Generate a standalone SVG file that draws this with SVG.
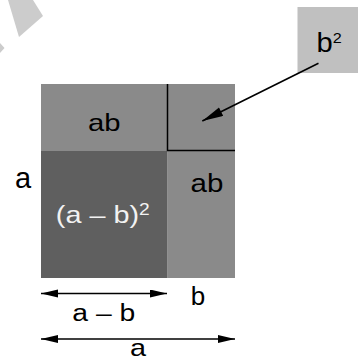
<svg xmlns="http://www.w3.org/2000/svg" width="358" height="361" viewBox="0 0 358 361">
  <style>
    .lbl { font-family: "Liberation Sans", Arial, sans-serif; fill: #000; }
    .wlbl { font-family: "Liberation Sans", Arial, sans-serif; fill: #f2f2f2; }
    .mid { fill: #8a8a8a; }
    .dark { fill: #5f5f5f; }
    .edge { stroke: #000; stroke-width: 1.5; fill: none; }
    .dim { stroke: #000; stroke-width: 1.6; fill: none; }
  </style>
  <defs>
    <marker id="headS" markerUnits="userSpaceOnUse" markerWidth="17" markerHeight="9" refX="17" refY="4" orient="auto-start-reverse">
      <path d="M0,0 L17,4 L0,8 z" fill="#000"/>
    </marker>
    <marker id="headL" markerUnits="userSpaceOnUse" markerWidth="21" markerHeight="10" refX="21" refY="4.75" orient="auto">
      <path d="M0,0 L21,4.75 L0,9.5 z" fill="#000"/>
    </marker>
  </defs>
  <rect width="358" height="361" fill="#fff"/>
  <g id="watermark" fill="#cccccc">
    <polygon points="8,0 33,0 43,16 19,37"/>
    <polygon points="0,43 4.5,48 0,53"/>
  </g>
  <g id="square">
    <rect id="top-ab" class="mid" x="41" y="84" width="127" height="67"/>
    <rect id="b-square" class="mid" x="167.5" y="84" width="67.5" height="67"/>
    <rect id="right-ab" class="mid" x="167.5" y="151" width="67.5" height="127"/>
    <rect id="amb-square" class="dark" x="41" y="151" width="126.5" height="127"/>
    <path class="edge" d="M167.5,84 V150.5 H235"/>
  </g>
  <g id="node-top-ab">
    <text class="lbl" font-size="24" transform="translate(88,130.5) scale(1.22,1)">ab</text>
  </g>
  <g id="node-right-ab">
    <text class="lbl" font-size="25" transform="translate(190.5,191.5) scale(1.18,1)">ab</text>
  </g>
  <g id="node-amb2">
    <text class="wlbl" font-size="24" transform="translate(55.8,223) scale(1.2,1)">(a – b)<tspan font-size="16" dy="-8">2</tspan></text>
  </g>
  <g id="node-b2">
    <rect x="297.5" y="7" width="61" height="66" fill="#c0c0c0"/>
    <text class="lbl" font-size="27" transform="translate(316.5,52.3) scale(1.08,1)">b<tspan font-size="15" dy="-9.6">2</tspan></text>
  </g>
  <g id="labels">
    <text class="lbl" font-size="29" x="15" y="188">a</text>
    <text class="lbl" font-size="26" x="190.8" y="305">b</text>
    <text class="lbl" font-size="23" transform="translate(72.3,321) scale(1.23,1)">a – b</text>
    <text class="lbl" font-size="24" transform="translate(130,356) scale(1.2,1)">a</text>
  </g>
  <g id="connectors">
    <line class="dim" x1="41" y1="293.5" x2="167" y2="293.5" marker-start="url(#headS)" marker-end="url(#headS)"/>
    <line class="dim" x1="41" y1="339" x2="235" y2="339" marker-start="url(#headS)" marker-end="url(#headS)"/>
    <line class="dim" x1="318.5" y1="63.3" x2="202.3" y2="121" marker-end="url(#headL)"/>
  </g>
</svg>
